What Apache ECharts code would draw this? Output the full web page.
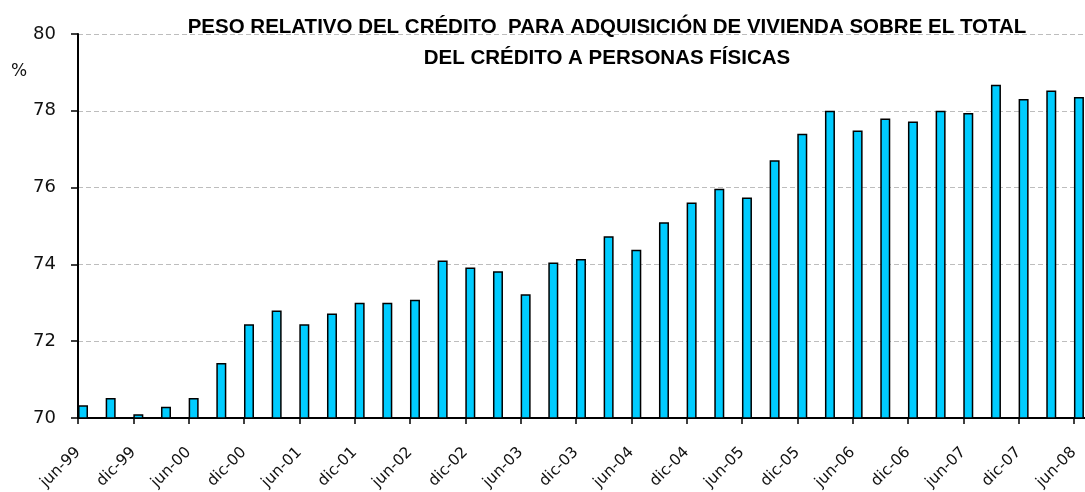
<!DOCTYPE html>
<html>
<head>
<meta charset="utf-8">
<script src="https://cdn.jsdelivr.net/npm/echarts@6/dist/echarts.min.js"></script>
<style>
  html, body { margin: 0; padding: 0; background: #fff; overflow: hidden; }
  #chart { width: 1085px; height: 492px; }
</style>
</head>
<body>
<div id="chart"></div>
<script>
// quarterly, jun-99 .. jun-08 (last '' slot is only room for the plot to run past the edge)
var quarters = [
  'jun-99', 'sep-99', 'dic-99', 'mar-00', 'jun-00', 'sep-00', 'dic-00', 'mar-01',
  'jun-01', 'sep-01', 'dic-01', 'mar-02', 'jun-02', 'sep-02', 'dic-02', 'mar-03',
  'jun-03', 'sep-03', 'dic-03', 'mar-04', 'jun-04', 'sep-04', 'dic-04', 'mar-05',
  'jun-05', 'sep-05', 'dic-05', 'mar-06', 'jun-06', 'sep-06', 'dic-06', 'mar-07',
  'jun-07', 'sep-07', 'dic-07', 'mar-08', 'jun-08', ''
];
var pesoVivienda = [
  70.33, 70.52, 70.10, 70.29, 70.52, 71.43, 72.44, 72.80,
  72.44, 72.72, 73.00, 73.00, 73.08, 74.10, 73.92, 73.82,
  73.22, 74.05, 74.14, 74.73, 74.38, 75.10, 75.61, 75.97,
  75.74, 76.71, 77.40, 78.00, 77.49, 77.80, 77.72, 78.00,
  77.94, 78.68, 78.31, 78.53, 78.36
];
var yTicks = { min: 70, max: 80, step: 2 };

var titleLines = [
  'PESO RELATIVO DEL CRÉDITO  PARA ADQUISICIÓN DE VIVIENDA SOBRE EL TOTAL',
  'DEL CRÉDITO A PERSONAS FÍSICAS'
];

var myChart = echarts.init(document.getElementById('chart'));
var option = {
  animation: false,
  title: {
    text: titleLines.join('\n'),
    left: 607,
    textAlign: 'center',
    top: 12,
    padding: 0,
    textStyle: {
      fontFamily: 'Liberation Sans',
      fontWeight: 'bold',
      fontSize: 20.5,
      lineHeight: 31,
      color: '#000'
    }
  },
  graphic: [{
    type: 'text',
    left: 11,
    top: 63,
    style: { text: '%', font: '17px "DejaVu Sans"', fill: '#111' }
  }],
  // plot runs a little past the right edge, like the original
  grid: { left: 78, top: 34, width: 1023.6, height: 384, containLabel: false, outerBoundsMode: 'none' },
  xAxis: {
    type: 'category',
    data: quarters,
    boundaryGap: false,
    axisLine: { lineStyle: { color: '#000', width: 2 } },
    axisTick: { show: true, interval: 1, length: 6, lineStyle: { color: '#000', width: 1.5 } },
    axisLabel: {
      interval: 1,
      rotate: 45,
      margin: 32,
      fontFamily: 'DejaVu Sans',
      fontSize: 15.5,
      color: '#111'
    },
    splitLine: { show: false }
  },
  yAxis: {
    type: 'value',
    min: yTicks.min,
    max: yTicks.max,
    interval: yTicks.step,
    axisLine: { show: true, lineStyle: { color: '#000', width: 2 } },
    axisTick: { show: true, length: 7, lineStyle: { color: '#000', width: 1.5 } },
    axisLabel: {
      margin: 22,
      fontFamily: 'DejaVu Sans',
      fontSize: 18,
      color: '#111'
    },
    splitLine: { lineStyle: { color: '#bdbdbd', type: [5, 3], width: 1 } }
  },
  series: [
    {
      // empty placeholder so the real bars sit just right of each tick
      type: 'bar',
      data: [],
      barWidth: 10,
      barGap: '0%',
      silent: true
    },
    {
      name: 'Vivienda',
      type: 'bar',
      data: pesoVivienda,
      barWidth: 10,
      barGap: '0%',
      itemStyle: { color: '#00ccff', borderColor: '#000', borderWidth: 1.5 }
    }
  ]
};
myChart.setOption(option);
</script>
</body>
</html>
